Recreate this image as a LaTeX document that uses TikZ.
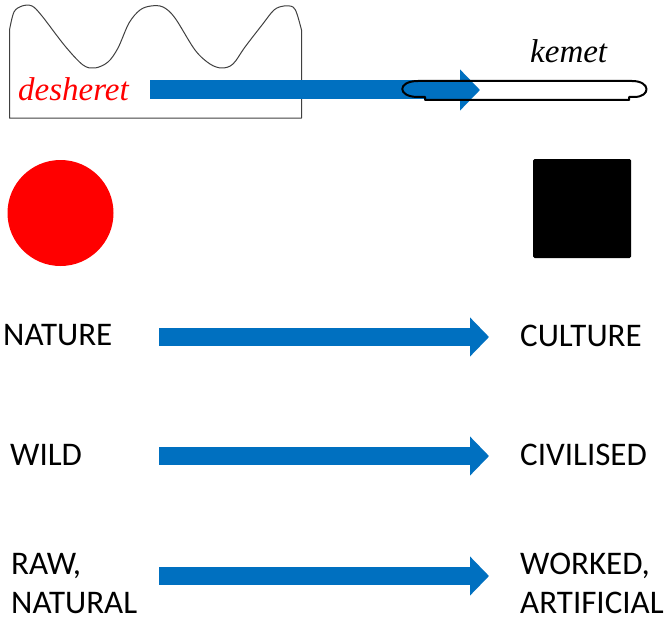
\documentclass[tikz,border=0pt]{standalone}
\usepackage{fontspec}
\setmainfont{Carlito}
\newfontfamily\serifit{Liberation Serif}
\usetikzlibrary{arrows.meta,calc}
\definecolor{arrowblue}{RGB}{0,112,192}
\definecolor{boxgray}{RGB}{64,64,64}
\tikzset{
  label/.style={inner sep=0pt, anchor=base west, font=\fontsize{33}{39}\selectfont, align=left},
  egypt/.style={inner sep=0pt, anchor=base west, font=\serifit\itshape\fontsize{33}{37}\selectfont},
  bigarrow/.style={draw=arrowblue, line width=18pt, -{Triangle[width=38pt, length=19pt]}},
  toparrow/.style={draw=arrowblue, line width=19pt, -{Triangle[width=40pt, length=20pt]}},
  kemetline/.style={draw=black, line width=2pt, line join=round},
  desertline/.style={draw=boxgray, line width=1pt, line join=round}
}
\begin{document}
\begin{tikzpicture}[x=1pt, y=-1pt]
\useasboundingbox (0,0) rectangle (668,623);
% desert box with hills
\draw[desertline] (301.5,118) -- (9.5,118) -- (9.5,30)
  -- plot[smooth, tension=0.55] coordinates {(9.5,30) (14,12) (22,6) (32,6) (42,16) (65,46) (83,65) (95,68) (108,62) (118,48) (129,23) (140,10) (151,6) (163,7) (175,18) (195,50) (210,64) (222,68) (233,64) (245,47) (262,25) (274,10) (284,6) (293,7) (297,14) (301.5,30)}
  -- cycle;
\node[egypt, text=red] (desheret) at (18,100) {desheret};
\node[egypt] (kemet) at (530,63) {kemet};
% top arrow
\coordinate (ts) at (150,90);
\coordinate (tt) at (480,90);
\draw[toparrow] (ts) -- (tt);
% kemet sign
\draw[kemetline] (418,81) -- (632,81) .. controls (651,81) and (651,97) .. (634,97) -- (629,97) -- (629,100) -- (425,100) -- (425,97) -- (418,97) .. controls (397,97) and (397,81) .. (418,81) -- cycle;
% symbols
\fill[red] (60.5,213) circle (53);
\fill[black, rounded corners=1.5pt] (533,159) rectangle (631,258);
% rows
\node[label] (nature) at (3,345) {NATURE};
\node[label] (culture) at (520,346) {CULTURE};
\coordinate (a1s) at (159,337);
\coordinate (a1t) at (489,337);
\draw[bigarrow] (a1s) -- (a1t);
\node[label] (wild) at (10,465) {WILD};
\node[label] (civilised) at (520,465) {CIVILISED};
\coordinate (a2s) at (159,456);
\coordinate (a2t) at (489,456);
\draw[bigarrow] (a2s) -- (a2t);
\node[label] (raw) at (11,613) {RAW,\\NATURAL};
\node[label] (worked) at (520,613) {WORKED,\\ARTIFICIAL};
\coordinate (a3s) at (159,576);
\coordinate (a3t) at (489,576);
\draw[bigarrow] (a3s) -- (a3t);
\end{tikzpicture}
\end{document}
